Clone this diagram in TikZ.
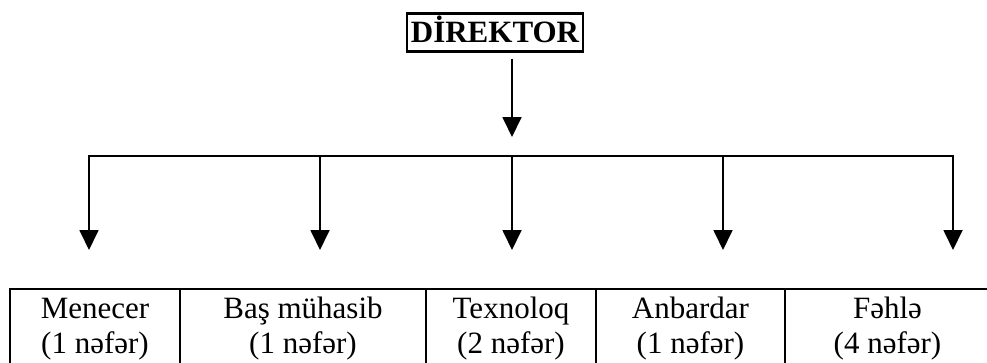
\documentclass[tikz,border=0pt]{standalone}
\usepackage{fontspec}
\setmainfont{Liberation Serif}
\usetikzlibrary{arrows.meta}
\begin{document}
\begin{tikzpicture}[x=1pt,y=-1pt,
  conn/.style={line width=1.8pt},
  arr/.style={conn,-{Triangle[width=19pt,length=20pt]}},
  cellbox/.style={draw,line width=2.2pt,anchor=north west,inner sep=0pt,outer sep=0pt,minimum height=95pt},
  celltext/.style={anchor=base,inner sep=0pt,font=\fontsize{31}{35}\selectfont},
  dirbox/.style={draw,line width=2.2pt,inner sep=0pt,outer sep=0pt,minimum width=176pt,minimum height=38pt,text height=20.5pt,text depth=0pt,font=\fontsize{31}{35}\selectfont\bfseries}]
\useasboundingbox (0,0) rectangle (987,362);
\fill[white] (0,0) rectangle (987,362);
% director
\node[dirbox] (dir) at (495,32.5) {DİREKTOR};
% cells
\node[cellbox,minimum width=170pt] (m1) at (10,289) {};
\node[cellbox,minimum width=246pt] (m2) at (180,289) {};
\node[cellbox,minimum width=170pt] (m3) at (426,289) {};
\node[cellbox,minimum width=189pt] (m4) at (596,289) {};
\node[cellbox,minimum width=205pt] (m5) at (785,289) {};
\node[celltext] (t1) at (m1.center |- 0,318) {\begin{tabular}[t]{@{}c@{}}Menecer\\(1 nəfər)\end{tabular}};
\node[celltext] (t2) at (m2.center |- 0,318) {\begin{tabular}[t]{@{}c@{}}Baş mühasib\\(1 nəfər)\end{tabular}};
\node[celltext] (t3) at (m3.center |- 0,318) {\begin{tabular}[t]{@{}c@{}}Texnoloq\\(2 nəfər)\end{tabular}};
\node[celltext] (t4) at (m4.center |- 0,318) {\begin{tabular}[t]{@{}c@{}}Anbardar\\(1 nəfər)\end{tabular}};
\node[celltext] (t5) at (m5.center |- 0,318) {\begin{tabular}[t]{@{}c@{}}Fəhlə\\(4 nəfər)\end{tabular}};
% bus coordinates
\coordinate (b1) at (89,156);
\coordinate (b2) at (320,156);
\coordinate (b3) at (512,156);
\coordinate (b4) at (723,156);
\coordinate (b5) at (953,156);
\coordinate (dtip) at (512,137);
% connectors
\draw[arr] ([yshift=-7pt]dir.south -| dtip) -- (dtip);
\draw[conn,line cap=rect] (b1) -- (b5);
\draw[arr,shorten >=39pt] (b1) -- (b1 |- m1.north);
\draw[arr,shorten >=39pt] (b2) -- (b2 |- m2.north);
\draw[arr,shorten >=39pt] (b3) -- (b3 |- m3.north);
\draw[arr,shorten >=39pt] (b4) -- (b4 |- m4.north);
\draw[arr,shorten >=39pt] (b5) -- (b5 |- m5.north);
\end{tikzpicture}
\end{document}
